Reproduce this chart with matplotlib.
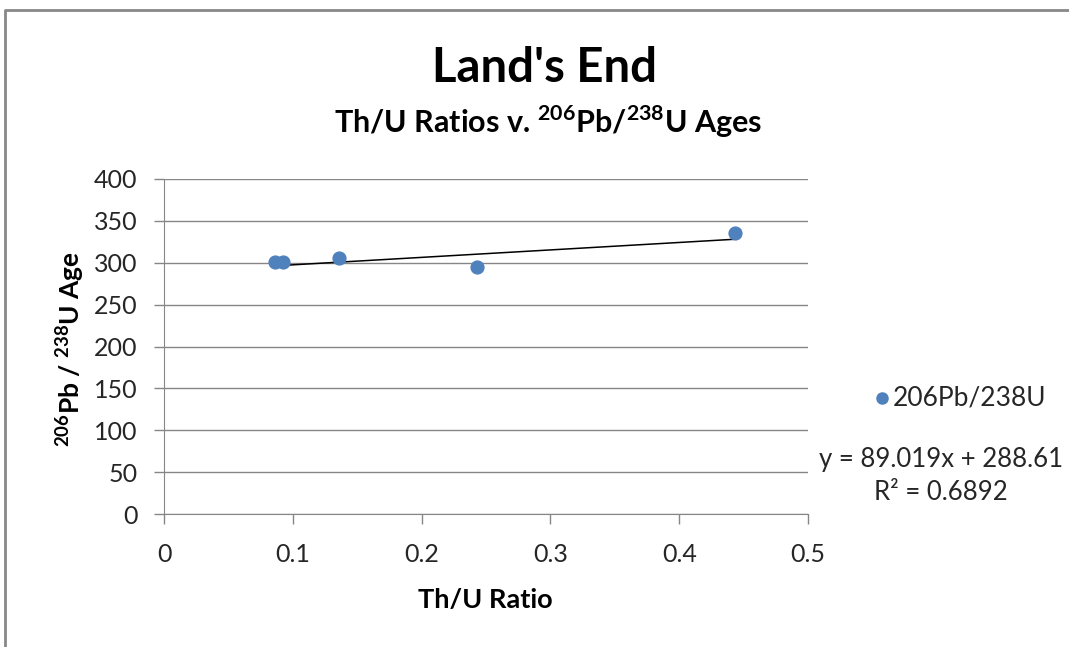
import matplotlib
matplotlib.use('Agg')
import matplotlib.pyplot as plt
from matplotlib.lines import Line2D
import numpy

plt.rcParams['font.family'] = ['Lato', 'DejaVu Sans']
plt.rcParams['mathtext.fontset'] = 'custom'
plt.rcParams['mathtext.rm'] = 'Lato'
plt.rcParams['mathtext.bf'] = 'Lato:bold'

# data
ThU = [0.0865, 0.0925, 0.136, 0.2427, 0.443]
Ages = [300.5, 300.5, 305.5, 295.5, 336.0]
Slope = 89.019
Intercept = 288.61
RSquared = 0.6892
XTicks = [0, 0.1, 0.2, 0.3, 0.4, 0.5]
YTicks = [0, 50, 100, 150, 200, 250, 300, 350, 400]

W, H = 1069, 647
fig = plt.figure(figsize=(W / 100.0, H / 100.0), dpi=100)
ax = fig.add_axes([164.0 / W, 1 - 514.0 / H, (808.0 - 164.0) / W, (514.0 - 179.0) / H])

gridcolor = '#868686'
ax.set_xlim(0, 0.5)
ax.set_ylim(0, 400)
ax.set_xticks(XTicks)
ax.set_xticklabels(['0', '0.1', '0.2', '0.3', '0.4', '0.5'])
ax.set_yticks(YTicks)
ax.yaxis.grid(True, color=gridcolor, linewidth=1)
ax.set_axisbelow(True)
for side in ['top', 'right']:
    ax.spines[side].set_visible(False)
for side in ['left', 'bottom']:
    ax.spines[side].set_color(gridcolor)
ax.tick_params(axis='both', colors=gridcolor, labelcolor='#262626', labelsize=18, length=7, width=1)
ax.tick_params(axis='y', pad=12)
ax.tick_params(axis='x', pad=14)

ax.scatter(ThU, Ages, s=85, color='#4F81BD', zorder=3, label='206Pb/238U')

xs = numpy.array([min(ThU), max(ThU)])
ax.plot(xs, Slope * xs + Intercept, color='black', linewidth=1.1, zorder=2)

fig.text(545.0 / W, 1 - 68.0 / H, "Land's End", ha='center', va='center', fontsize=34, fontweight='bold')
fig.text(548.0 / W, 1 - 122.0 / H, r"Th/U Ratios v. $^{\mathbf{206}}$Pb/$^{\mathbf{238}}$U Ages",
         ha='center', va='center', fontsize=22, fontweight='bold')
fig.text(70.0 / W, 1 - 349.0 / H, r"$^{\mathbf{206}}$Pb / $^{\mathbf{238}}$U Age",
         ha='center', va='center', rotation=90, fontsize=19, fontweight='bold')
fig.text(485.0 / W, 1 - 600.0 / H, "Th/U Ratio", ha='center', va='center', fontsize=19.5, fontweight='bold')

# legend drawn by hand in figure coords
fig.lines.append(Line2D([882.0 / W], [1 - 398.0 / H], marker='o', markersize=8, color='#4F81BD',
                        linestyle='none', transform=fig.transFigure))
fig.text(893.0 / W, 1 - 398.0 / H, '206Pb/238U', ha='left', va='center', fontsize=19, color='#262626')

fig.text(941.0 / W, 1 - 460.0 / H, 'y = %.3fx + %.2f' % (Slope, Intercept), ha='center', va='center',
         fontsize=18.5, color='#262626')
fig.text(941.0 / W, 1 - 493.0 / H, 'R² = %.4f' % RSquared, ha='center', va='center',
         fontsize=18.5, color='#262626')

# chart area border
fig.lines.append(Line2D([5.0 / W, 5.0 / W, 1.0], [0, 1 - 10.0 / H, 1 - 10.0 / H], color='#888888',
                        linewidth=2, transform=fig.transFigure))

plt.savefig('out.png', dpi=100)
plt.close()
